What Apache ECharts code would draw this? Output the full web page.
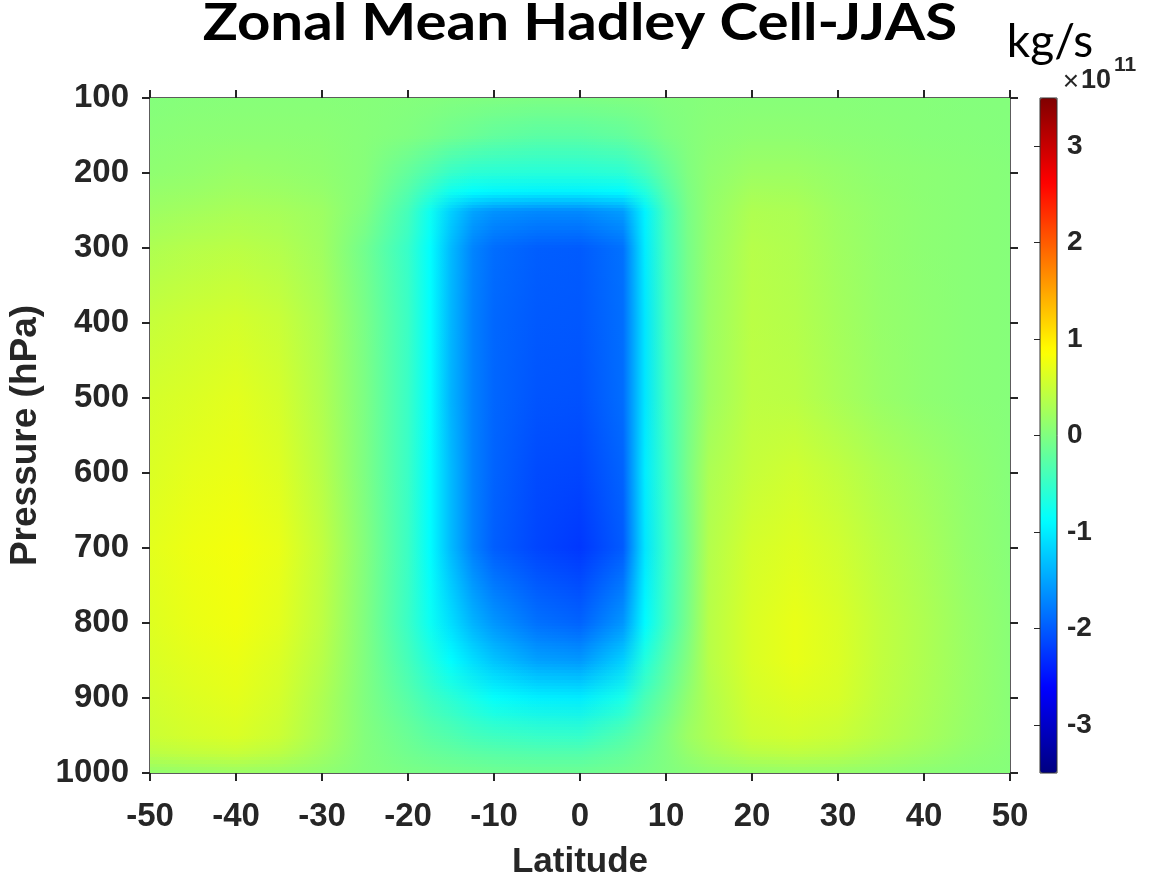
<!DOCTYPE html>
<html>
<head>
<meta charset="utf-8">
<script src="https://cdn.jsdelivr.net/npm/echarts@6/dist/echarts.min.js"></script>
<style>
html,body{margin:0;padding:0;background:#fff;}
#chart{width:1150px;height:880px;}
</style>
</head>
<body>
<div id="chart"></div>
<script>
// ---------------- data ----------------
const LATITUDES = [-50,-45,-40,-35,-30,-25,-20,-17.5,-15,-12.5,-10,-5,0,5,7.5,10,12.5,15,20,25,30,35,40,45,50];
const PRESSURES = [100,150,200,225,250,300,400,500,600,700,800,850,900,950,975,1000];
// stream function, units of 1e11 kg/s, one row per pressure level (same order as PRESSURES)
const PSI_100  = [0.03,0.04,0.05,0.05,0.05,0.04,0.03,0.02,0.01,0.00,-0.01,-0.02,-0.02,-0.01,0.00,0.02,0.03,0.04,0.05,0.05,0.05,0.04,0.04,0.03,0.03];
const PSI_150  = [0.06,0.08,0.09,0.09,0.08,0.05,0.00,-0.05,-0.10,-0.15,-0.20,-0.25,-0.25,-0.20,-0.12,-0.03,0.03,0.07,0.10,0.10,0.08,0.07,0.05,0.04,0.03];
const PSI_200  = [0.10,0.13,0.17,0.15,0.12,0.04,-0.20,-0.35,-0.50,-0.58,-0.60,-0.62,-0.62,-0.58,-0.42,-0.20,0.00,0.10,0.20,0.20,0.15,0.10,0.08,0.06,0.04];
const PSI_225  = [0.15,0.18,0.22,0.20,0.15,0.03,-0.30,-0.55,-0.78,-0.88,-0.92,-0.95,-0.95,-0.90,-0.65,-0.30,-0.03,0.12,0.26,0.25,0.17,0.12,0.08,0.06,0.04];
const PSI_250  = [0.20,0.24,0.28,0.26,0.20,0.00,-0.40,-0.78,-1.20,-1.50,-1.62,-1.68,-1.68,-1.55,-0.95,-0.40,-0.05,0.13,0.32,0.30,0.20,0.13,0.09,0.06,0.04];
const PSI_300  = [0.32,0.37,0.40,0.35,0.22,-0.10,-0.50,-0.87,-1.35,-1.72,-1.88,-1.98,-2.00,-1.85,-1.00,-0.42,-0.06,0.15,0.37,0.33,0.22,0.14,0.09,0.06,0.04];
const PSI_400  = [0.48,0.54,0.58,0.50,0.30,-0.05,-0.47,-0.87,-1.38,-1.75,-1.92,-2.02,-2.03,-1.87,-1.05,-0.43,-0.07,0.18,0.40,0.36,0.25,0.15,0.10,0.06,0.04];
const PSI_500  = [0.58,0.63,0.68,0.58,0.33,-0.03,-0.48,-0.87,-1.40,-1.75,-1.93,-2.05,-2.07,-1.88,-1.05,-0.45,-0.08,0.20,0.42,0.40,0.28,0.17,0.10,0.06,0.04];
const PSI_600  = [0.63,0.70,0.74,0.65,0.38,-0.02,-0.48,-0.88,-1.35,-1.75,-1.95,-2.12,-2.15,-1.95,-1.00,-0.48,-0.05,0.30,0.48,0.55,0.45,0.32,0.22,0.12,0.04];
const PSI_700  = [0.68,0.76,0.80,0.72,0.45,0.02,-0.47,-0.88,-1.35,-1.75,-1.98,-2.15,-2.25,-2.00,-1.05,-0.50,-0.08,0.35,0.58,0.65,0.55,0.40,0.28,0.14,0.05];
const PSI_800  = [0.65,0.73,0.78,0.68,0.42,0.00,-0.48,-0.80,-1.10,-1.40,-1.60,-1.85,-1.95,-1.60,-0.90,-0.45,-0.05,0.38,0.62,0.72,0.62,0.45,0.32,0.17,0.06];
const PSI_850  = [0.62,0.69,0.74,0.63,0.38,0.00,-0.40,-0.65,-0.88,-1.10,-1.28,-1.52,-1.58,-1.20,-0.65,-0.30,0.02,0.38,0.62,0.72,0.63,0.45,0.32,0.18,0.06];
const PSI_900  = [0.57,0.64,0.69,0.58,0.32,0.00,-0.28,-0.45,-0.58,-0.72,-0.85,-0.97,-1.00,-0.72,-0.38,-0.15,0.12,0.34,0.58,0.65,0.60,0.43,0.30,0.17,0.06];
const PSI_950  = [0.52,0.58,0.62,0.52,0.28,0.02,-0.15,-0.25,-0.32,-0.40,-0.45,-0.50,-0.52,-0.32,-0.18,0.00,0.20,0.32,0.52,0.56,0.50,0.38,0.27,0.15,0.06];
const PSI_975  = [0.40,0.45,0.48,0.40,0.22,0.02,-0.10,-0.16,-0.20,-0.24,-0.27,-0.30,-0.30,-0.20,-0.10,0.00,0.14,0.24,0.38,0.42,0.38,0.28,0.20,0.11,0.05];
const PSI_1000 = [0.12,0.15,0.17,0.15,0.10,0.02,-0.03,-0.05,-0.07,-0.08,-0.10,-0.12,-0.12,-0.08,-0.05,0.00,0.04,0.08,0.12,0.14,0.13,0.10,0.07,0.05,0.04];
const PSI_ROWS = [PSI_100,PSI_150,PSI_200,PSI_225,PSI_250,PSI_300,PSI_400,PSI_500,PSI_600,PSI_700,PSI_800,PSI_850,PSI_900,PSI_950,PSI_975,PSI_1000];

const CBAR_TICKS = [-3,-2,-1,0,1,2,3];
const CBAR_MIN = -3.5, CBAR_MAX = 3.5;
const JET = ['#000080','#0000ff','#0080ff','#00ffff','#80ff80','#ffff00','#ff8000','#ff0000','#800000'];

// ---------------- build ----------------
const NL = LATITUDES.length, NP = PRESSURES.length;
const gridData = [];
for (let j = 0; j < NP; j++) {
  for (let i = 0; i < NL; i++) {
    gridData.push([LATITUDES[i], PRESSURES[j], PSI_ROWS[j][i]]);
  }
}

const AX = '#262626';
const FONT = '"Liberation Sans", Arial, Helvetica, sans-serif';

function hGrad(a, b) {
  return new echarts.graphic.LinearGradient(0, 0, 1, 0, [
    {offset: 0, color: a}, {offset: 1, color: b}
  ]);
}

function renderCell(params, api) {
  const idx = params.dataIndex;
  const i = idx % NL, j = Math.floor(idx / NL);
  if (i >= NL - 1 || j >= NP - 1) return null;
  const a = api.coord([LATITUDES[i], PRESSURES[j]]);
  const b = api.coord([LATITUDES[i + 1], PRESSURES[j + 1]]);
  const x0 = Math.round(Math.min(a[0], b[0])), x1 = Math.round(Math.max(a[0], b[0]));
  const y0 = Math.round(Math.min(a[1], b[1])), y1 = Math.round(Math.max(a[1], b[1]));
  const cTL = api.visual('color', idx), cTR = api.visual('color', idx + 1);
  const cBL = api.visual('color', idx + NL), cBR = api.visual('color', idx + NL + 1);
  const h = y1 - y0;
  const children = [{
    type: 'rect', shape: {x: x0, y: y0, width: x1 - x0, height: h},
    style: {fill: hGrad(cTL, cTR)}
  }];
  const K = Math.max(3, Math.round(h / 3));
  for (let k = 0; k < K; k++) {
    const ya = Math.round(y0 + k * h / K), yb = Math.round(y0 + (k + 1) * h / K);
    if (yb <= ya) continue;
    children.push({
      type: 'rect', shape: {x: x0, y: ya, width: x1 - x0, height: yb - ya},
      style: {fill: hGrad(cBL, cBR), opacity: (k + 0.5) / K}
    });
  }
  return {type: 'group', children};
}

const tickLabel = {color: AX, fontSize: 33, fontWeight: 'bold', fontFamily: FONT, formatter: v => String(v)};

const option = {
  animation: false,
  backgroundColor: '#fff',
  grid: [
    {left: 150, top: 98, width: 860, height: 675, show: false, containLabel: false, outerBoundsMode: 'none'},
    {left: 1040, top: 98, width: 17, height: 675, show: true, z: 6, containLabel: false, outerBoundsMode: 'none',
     backgroundColor: 'transparent', borderColor: '#333', borderWidth: 1}
  ],
  xAxis: [
    {type: 'value', gridIndex: 0, position: 'bottom', min: -50, max: 50, interval: 10,
     axisLine: {show: true, onZero: false, lineStyle: {color: AX, width: 1.5}},
     axisTick: {show: true, inside: false, length: 8, lineStyle: {color: AX, width: 2}},
     axisLabel: Object.assign({margin: 27}, tickLabel),
     splitLine: {show: false},
     name: 'Latitude', nameLocation: 'middle', nameGap: 72,
     nameTextStyle: {color: AX, fontSize: 35, fontWeight: 'bold', fontFamily: FONT}},
    {type: 'value', gridIndex: 0, position: 'top', min: -50, max: 50, interval: 10,
     axisLine: {show: true, onZero: false, lineStyle: {color: AX, width: 1.5}},
     axisTick: {show: true, inside: false, length: 8, lineStyle: {color: AX, width: 2}},
     axisLabel: {show: false}, splitLine: {show: false}},
    {type: 'value', gridIndex: 1, show: false, min: 0, max: 1}
  ],
  yAxis: [
    {type: 'value', gridIndex: 0, position: 'left', inverse: true, min: 100, max: 1000, interval: 100,
     axisLine: {show: true, onZero: false, lineStyle: {color: AX, width: 1.5}},
     axisTick: {show: true, inside: false, length: 8, lineStyle: {color: AX, width: 2}},
     axisLabel: Object.assign({margin: 21}, tickLabel),
     splitLine: {show: false},
     name: 'Pressure (hPa)', nameLocation: 'middle', nameGap: 100, nameRotate: 90,
     nameTextStyle: {color: AX, fontSize: 37, fontWeight: 'bold', fontFamily: FONT}},
    {type: 'value', gridIndex: 0, position: 'right', inverse: true, min: 100, max: 1000, interval: 100,
     axisLine: {show: true, onZero: false, lineStyle: {color: AX, width: 1.5}},
     axisTick: {show: true, inside: false, length: 8, lineStyle: {color: AX, width: 2}},
     axisLabel: {show: false}, splitLine: {show: false}},
    {type: 'value', gridIndex: 1, position: 'right', min: CBAR_MIN, max: CBAR_MAX, z: 8,
     axisLine: {show: false},
     axisTick: {show: true, inside: true, length: 6, customValues: CBAR_TICKS, lineStyle: {color: AX, width: 1}},
     axisLabel: {show: true, customValues: CBAR_TICKS, margin: 10, color: AX, fontSize: 28, fontWeight: 'bold', fontFamily: FONT},
     splitLine: {show: false}}
  ],
  visualMap: {
    type: 'continuous', seriesIndex: 0, dimension: 2,
    min: CBAR_MIN, max: CBAR_MAX, calculable: false, realtime: false,
    show: true, left: 1040, top: 98, padding: 0,
    itemWidth: 17, itemHeight: 675, text: null, showLabel: false, hoverLink: false,
    inRange: {color: JET}
  },
  series: [{
    type: 'custom', xAxisIndex: 0, yAxisIndex: 0, coordinateSystem: 'cartesian2d',
    data: gridData, encode: {x: 0, y: 1}, renderItem: renderCell, clip: true, silent: true, z: 1
  }],
  graphic: [
    {type: 'text', x: 580, y: 23, scaleX: 1.12, scaleY: 1, style: {
      text: 'Zonal Mean Hadley Cell-JJAS', x: 0, y: 0, align: 'center', verticalAlign: 'middle',
      font: 'bold 52px Lato, "Open Sans", sans-serif', fill: '#000'}},
    {type: 'text', style: {
      text: 'kg/s', x: 1050, y: 42, align: 'center', verticalAlign: 'middle',
      font: '46px Lato, "Open Sans", sans-serif', fill: '#000'}},
    {type: 'text', style: {
      text: '×', x: 1071, y: 82, align: 'center', verticalAlign: 'middle',
      font: '28px "Liberation Sans", Arial, sans-serif', fill: AX}},
    {type: 'text', style: {
      text: '10', x: 1081, y: 81, align: 'left', verticalAlign: 'middle',
      font: 'bold 27px "Liberation Sans", Arial, sans-serif', fill: AX}},
    {type: 'text', style: {
      text: '11', x: 1114, y: 65, align: 'left', verticalAlign: 'middle',
      font: 'bold 21px "Liberation Sans", Arial, sans-serif', fill: AX}}
  ]
};

const chart = echarts.init(document.getElementById('chart'), null, {renderer: 'canvas'});
chart.setOption(option);
</script>
</body>
</html>
